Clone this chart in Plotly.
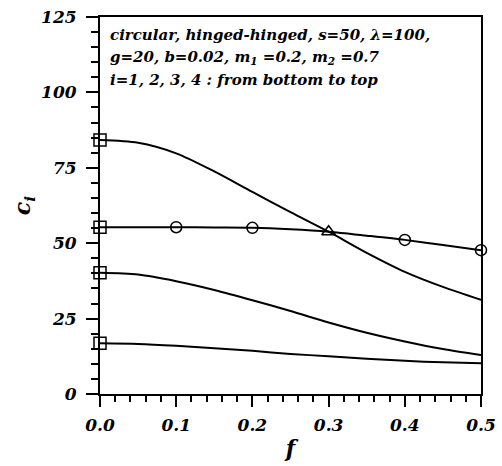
import plotly.graph_objects as go

# Data
f_line = [0.0, 0.05, 0.1, 0.15, 0.2, 0.25, 0.3, 0.35, 0.4, 0.45, 0.5]
c1 = [16.8, 16.6, 16.0, 15.2, 14.3, 13.3, 12.5, 11.7, 11.0, 10.5, 10.2]
c2 = [40.2, 39.6, 37.4, 34.5, 31.1, 27.5, 23.7, 20.3, 17.4, 14.9, 12.9]
c3 = [55.3, 55.3, 55.3, 55.2, 55.1, 54.6, 53.8, 52.5, 51.1, 49.4, 47.7]
c4 = [84.2, 83.3, 79.8, 73.8, 67.0, 60.3, 53.8, 46.8, 40.5, 35.5, 31.2]

sq_f = [0.0, 0.0, 0.0, 0.0]
sq_c = [16.8, 40.2, 55.3, 84.2]
circ_f = [0.1, 0.2, 0.4, 0.5]
circ_c = [55.3, 55.1, 51.1, 47.7]
tri_f = [0.3]
tri_c = [53.8]

x_ticks = [0.0, 0.1, 0.2, 0.3, 0.4, 0.5]
y_ticks = [0, 25, 50, 75, 100, 125]

note_lines = [
    "circular, hinged-hinged, s=50, λ=100,",
    "g=20, b=0.02, m<sub>1</sub> =0.2, m<sub>2</sub> =0.7",
    "i=1, 2, 3, 4 : from bottom to top",
]

SERIF = "DejaVu Serif"

fig = go.Figure()
for ys in (c1, c2, c3, c4):
    fig.add_trace(go.Scatter(x=f_line, y=ys, mode="lines",
                             line=dict(color="black", width=2, shape="spline", smoothing=0.8),
                             showlegend=False, cliponaxis=False))

fig.add_trace(go.Scatter(x=sq_f, y=sq_c, mode="markers",
                         marker=dict(symbol="square-open", size=12, color="black",
                                     line=dict(width=1.5, color="black")),
                         showlegend=False, cliponaxis=False))
fig.add_trace(go.Scatter(x=circ_f, y=circ_c, mode="markers",
                         marker=dict(symbol="circle-open", size=11, color="black",
                                     line=dict(width=1.5, color="black")),
                         showlegend=False, cliponaxis=False))
fig.add_trace(go.Scatter(x=tri_f, y=tri_c, mode="markers",
                         marker=dict(symbol="triangle-up-open", size=12, color="black",
                                     line=dict(width=1.5, color="black")),
                         showlegend=False, cliponaxis=False))

tickfont = dict(family=SERIF, size=17, color="black", style="italic", weight="bold")
titlefont = dict(family=SERIF, size=22, color="black", style="italic", weight="bold")

fig.update_xaxes(range=[0, 0.5], tickvals=x_ticks,
                 ticktext=[f"{v:.1f}" for v in x_ticks],
                 ticks="outside", ticklen=11, tickwidth=2, tickcolor="black",
                 ticklabelstandoff=4,
                 minor=dict(dtick=0.02, tick0=0, ticks="outside", ticklen=6,
                            tickwidth=1.5, tickcolor="black"),
                 showline=True, linecolor="black", linewidth=2, mirror=True,
                 showgrid=False, zeroline=False, automargin=False,
                 tickfont=tickfont,
                 title=dict(text="f", font=titlefont, standoff=6))
fig.update_yaxes(range=[0, 125], tickvals=y_ticks,
                 ticktext=[str(v) for v in y_ticks],
                 ticks="outside", ticklen=12, tickwidth=2, tickcolor="black",
                 ticklabelstandoff=6,
                 minor=dict(dtick=5, tick0=0, ticks="outside", ticklen=7,
                            tickwidth=1.5, tickcolor="black"),
                 showline=True, linecolor="black", linewidth=2, mirror=True,
                 showgrid=False, zeroline=False, automargin=False,
                 tickfont=tickfont,
                 title=dict(text="c<sub>i</sub>", font=titlefont, standoff=4))

# three text lines, centre heights in pixels converted to paper coords
for k, line in enumerate(note_lines):
    py = 35.0 + 22.5 * k
    fig.add_annotation(
        xref="paper", yref="paper", x=0.022, y=(394 - py) / 377,
        xanchor="left", yanchor="middle", align="left", showarrow=False,
        text=f"<b><i>{line}</i></b>",
        font=dict(family=SERIF, size=15, color="black"))

fig.update_layout(width=502, height=466,
                  margin=dict(l=100, r=21, t=17, b=72),
                  paper_bgcolor="white", plot_bgcolor="white")

fig.write_html("out.html")
